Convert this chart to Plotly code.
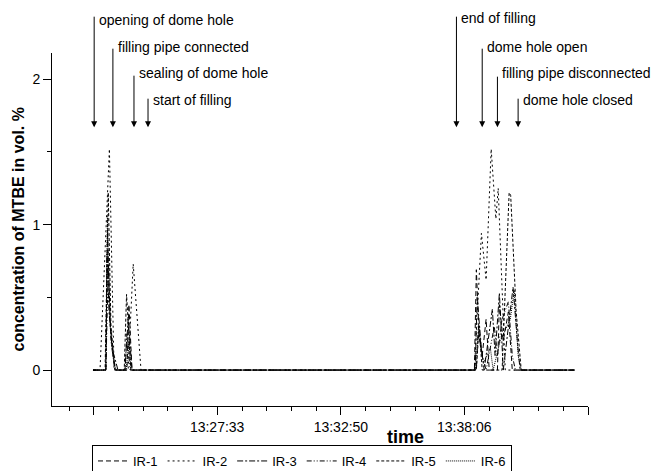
import plotly.graph_objects as go

DAY = "2008-06-01 "

# ---------------- data (time "HH:MM:SS", concentration in vol.%) ----------------
IR1_t = ["13:22:15", "13:22:48", "13:22:52", "13:22:59", "13:23:06", "13:23:14", "13:23:42", "13:23:47",
         "13:23:55", "13:38:32", "13:38:37", "13:38:44", "13:38:52", "13:39:02", "13:39:10", "13:39:31",
         "13:39:36", "13:39:46", "13:39:59", "13:40:09", "13:42:48"]
IR1_v = [0, 0, 0.95, 0.35, 0.1, 0, 0, 0.45, 0, 0, 0.69, 0.25, 0.1, 0.35, 0, 0, 0.45, 0.2, 0.4, 0, 0]

IR2_t = ["13:22:15", "13:22:33", "13:22:57", "13:23:09", "13:23:45", "13:23:58", "13:24:18", "13:38:32",
         "13:38:50", "13:39:02", "13:39:15", "13:39:27", "13:39:33", "13:39:46", "13:39:51", "13:42:48"]
IR2_v = [0, 0, 1.52, 0, 0, 0.73, 0, 0, 0.94, 0.62, 1.52, 1.04, 1.25, 0.3, 0, 0]

IR3_t = ["13:22:15", "13:22:48", "13:22:51", "13:22:56", "13:23:04", "13:23:19", "13:23:37", "13:23:45",
         "13:23:55", "13:38:34", "13:38:39", "13:38:50", "13:38:57", "13:39:18", "13:39:25", "13:39:36",
         "13:39:46", "13:39:59", "13:40:11", "13:40:22", "13:40:29", "13:42:48"]
IR3_v = [0, 0, 0.8, 0.4, 0.15, 0, 0, 0.35, 0, 0, 0.5, 0.15, 0, 0.42, 0.1, 0.53, 0, 0.3, 0.57, 0.2, 0, 0]

IR4_t = ["13:22:15", "13:22:48", "13:22:54", "13:23:01", "13:23:11", "13:23:37", "13:23:42", "13:23:50",
         "13:38:37", "13:38:42", "13:38:52", "13:39:02", "13:39:23", "13:39:31", "13:39:43", "13:39:59",
         "13:40:09", "13:40:17", "13:42:48"]
IR4_v = [0, 0, 0.7, 0.2, 0, 0, 0.25, 0, 0, 0.3, 0.1, 0, 0.3, 0.1, 0.35, 0.47, 0.1, 0, 0]

IR5_t = ["13:22:15", "13:22:46", "13:22:54", "13:23:01", "13:23:11", "13:23:35", "13:23:41", "13:23:52",
         "13:38:37", "13:38:44", "13:38:52", "13:39:43", "13:39:51", "13:40:01", "13:40:05", "13:40:19",
         "13:40:32", "13:42:48"]
IR5_v = [0, 0, 1.22, 0.3, 0, 0, 0.52, 0, 0, 0.3, 0, 0, 0.55, 1.22, 1.2, 0.4, 0, 0]

IR6_t = ["13:22:15", "13:22:48", "13:22:52", "13:22:59", "13:23:09", "13:23:14", "13:23:40", "13:23:47",
         "13:23:52", "13:38:34", "13:38:42", "13:38:55", "13:39:13", "13:39:20", "13:39:38", "13:40:04",
         "13:40:14", "13:40:24", "13:40:32", "13:42:48"]
IR6_v = [0, 0, 1.05, 0.3, 0.05, 0, 0, 0.2, 0, 0, 0.25, 0.05, 0.15, 0, 0.2, 0.35, 0.55, 0.1, 0, 0]

series_names = ["IR-1", "IR-2", "IR-3", "IR-4", "IR-5", "IR-6"]
series_t = [IR1_t, IR2_t, IR3_t, IR4_t, IR5_t, IR6_t]
series_v = [IR1_v, IR2_v, IR3_v, IR4_v, IR5_v, IR6_v]
dashes = ["5px,3px", "2px,3px", "6px,2px,2px,2px", "5px,2px,1px,2px,1px,2px", "3px,2px", "1px,1px"]

# events (arrows)
event_labels = ["opening of dome hole", "filling pipe connected", "sealing of dome hole", "start of filling",
                "end of filling", "dome hole open", "filling pipe disconnected", "dome hole closed"]
event_times = ["13:22:18", "13:23:06", "13:24:00", "13:24:36", "13:37:46", "13:38:52", "13:39:31", "13:40:24"]

# axis ticks
major_ticks = ["13:22:17", "13:27:33", "13:32:50", "13:38:06", "13:43:23"]
major_text = ["", "13:27:33", "13:32:50", "13:38:06", ""]
x_range = ["13:20:30", "13:43:23"]

FONT = "Liberation Sans, Arial, sans-serif"

fig = go.Figure()
for name, t, v, d in zip(series_names, series_t, series_v, dashes):
    fig.add_trace(go.Scatter(
        x=[DAY + s for s in t], y=v, mode="lines", name=name,
        line=dict(color="black", width=1, dash=d),
    ))

# arrow geometry (pixels above the tip) and text levels (paper units)
tip_y = 1.67
tail_px = [-112, -80, -53, -30, -112, -80, -52, -30]
text_y = [1.093, 1.017, 0.943, 0.867, 1.099, 1.017, 0.943, 0.867]

annotations = []
for lab, t, tp, ty in zip(event_labels, event_times, tail_px, text_y):
    annotations.append(dict(
        x=DAY + t, y=tip_y, xref="x", yref="y", text="", showarrow=True,
        ax=0, ay=tp, axref="pixel", ayref="pixel",
        arrowhead=2, arrowsize=1.2, arrowwidth=1, arrowcolor="black",
        font=dict(size=1),
    ))
    annotations.append(dict(
        x=DAY + t, y=ty, xref="x", yref="paper", text=lab, showarrow=False,
        xanchor="left", yanchor="middle", xshift=3,
        font=dict(family=FONT, size=14, color="black"),
    ))

annotations.append(dict(
    text="<b>time</b>", xref="paper", yref="paper", x=0.659, y=-0.088,
    xanchor="center", yanchor="middle", showarrow=False,
    font=dict(family=FONT, size=18, color="black"),
))
annotations.append(dict(
    text="<b>concentration of MTBE in vol. %</b>", xref="paper", yref="paper", x=0, y=0.5,
    xshift=-34, textangle=-90, xanchor="center", yanchor="middle", showarrow=False,
    font=dict(family=FONT, size=16, color="black"),
))

fig.update_layout(
    width=655, height=471,
    margin=dict(l=52, r=67, t=53, b=65, autoexpand=False),
    paper_bgcolor="white", plot_bgcolor="white",
    font=dict(family=FONT, size=13, color="black"),
    showlegend=True,
    legend=dict(
        orientation="h", xref="container", yref="container",
        x=92 / 655, y=1 - 445 / 471, xanchor="left", yanchor="top",
        bordercolor="black", borderwidth=1, font=dict(family=FONT, size=13, color="black"),
        itemwidth=30, tracegroupgap=0,
    ),
    annotations=annotations,
)

fig.update_xaxes(
    type="date", range=[DAY + x_range[0], DAY + x_range[1]],
    showline=True, linecolor="black", linewidth=1, showgrid=False, zeroline=False,
    tickmode="array", tickvals=[DAY + s for s in major_ticks], ticktext=major_text,
    ticks="outside", ticklen=8, tickcolor="black", tickwidth=1,
    tickfont=dict(family=FONT, size=14, color="black"), automargin=False,
    minor=dict(ticks="outside", ticklen=4, tickcolor="black", tickwidth=1,
               tick0=DAY + major_ticks[0], dtick=63300, showgrid=False),
)
fig.update_yaxes(
    range=[-0.247, 2.18],
    showline=True, linecolor="black", linewidth=1, showgrid=False, zeroline=False,
    tickmode="array", tickvals=[0, 1, 2], ticktext=["0", "1", "2"],
    ticks="outside", ticklen=8, tickcolor="black", tickwidth=1,
    tickfont=dict(family=FONT, size=14, color="black"), automargin=False,
    minor=dict(ticks="outside", ticklen=4, tickcolor="black", tickwidth=1,
               tickvals=[0.5, 1.5], showgrid=False),
)

fig.write_html("out.html")
